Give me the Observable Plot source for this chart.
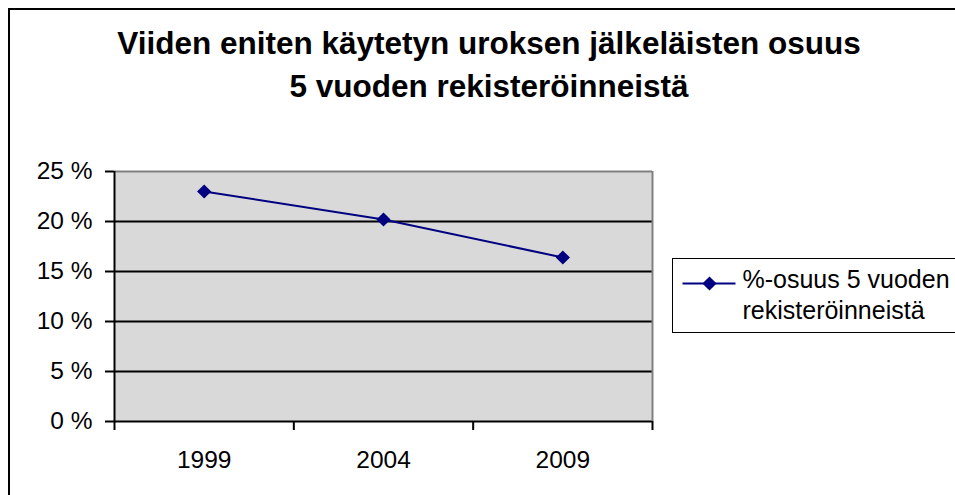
<!DOCTYPE html>
<html>
<head>
<meta charset="utf-8">
<script src="https://cdn.jsdelivr.net/npm/d3@7"></script>
<script src="https://cdn.jsdelivr.net/npm/@observablehq/plot@0.6"></script>
<style>
  html, body { margin: 0; padding: 0; background: #fff; }
  body { width: 955px; height: 495px; overflow: hidden; position: relative; font-family: "Liberation Sans", Arial, sans-serif; }
  #wrap { position: absolute; left: 0; top: 0; width: 955px; height: 495px; }
  #border { position: absolute; left: 8px; top: 8px; width: 1000px; height: 600px; border: 2px solid #000; box-sizing: border-box; }
  .title { position: absolute; left: 0; width: 978px; text-align: center; font-weight: bold; font-size: 31.5px; line-height: 1; color: #000; white-space: nowrap; }
  #legend { position: absolute; left: 672px; top: 258px; width: 320px; height: 75px; border: 1.5px solid #000; box-sizing: border-box; background: #fff; }
  .ltext { position: absolute; font-size: 25px; line-height: 1; color: #000; white-space: nowrap; }
  #chart { position: absolute; left: 0; top: 0; }
</style>
</head>
<body>
<div id="wrap">
  <div id="border"></div>
  <div id="chart"></div>
</div>
<script>
// ---- data ----
const title = ["Viiden eniten käytetyn uroksen jälkeläisten osuus", "5 vuoden rekisteröinneistä"];
const years = [1999, 2004, 2009];
const shares = [23.0, 20.2, 16.4];           // % of 5-year registrations
const yTicks = [0, 5, 10, 15, 20, 25];
const seriesName = ["%-osuus 5 vuoden", "rekisteröinneistä"];

const data = years.map((y, i) => ({year: y, value: shares[i]}));
const step = years[1] - years[0];
const xMin = years[0] - step / 2;
const xMax = years[years.length - 1] + step / 2;
const bounds = [xMin, ...years.slice(0, -1).map(y => y + step / 2), xMax];
const yMax = yTicks[yTicks.length - 1];

const navy = "#000080";
const dotR = 6.4;

const chart = Plot.plot({
  width: 955,
  height: 495,
  marginLeft: 114,
  marginRight: 303,
  marginTop: 171,
  marginBottom: 74,
  style: { background: "transparent", fontFamily: "'Liberation Sans', Arial, sans-serif", color: "#000" },
  x: { type: "linear", domain: [xMin, xMax] },
  y: { domain: [0, yMax] },
  marks: [
    Plot.frame({ fill: "#d9d9d9", stroke: "none" }),
    Plot.ruleY(yTicks.filter(t => t < yMax), { stroke: "#000", strokeWidth: 2 }),
    Plot.ruleY([yMax], { stroke: "#808080", strokeWidth: 2 }),
    Plot.ruleX([xMax], { stroke: "#808080", strokeWidth: 2 }),
    Plot.ruleX([xMin], { stroke: "#000", strokeWidth: 2 }),
    Plot.axisY({ ticks: yTicks, tickFormat: d => d + " %", tickSize: 9, tickPadding: 13, fontSize: 24.5, strokeWidth: 2, label: null }),
    Plot.axisX({ ticks: bounds, tickSize: 9, tickFormat: () => "", strokeWidth: 2, label: null }),
    Plot.axisX({ ticks: years, tickSize: 0, tickPadding: 29, tickFormat: d => String(d), fontSize: 24.5, label: null }),
    Plot.line(data, { x: "year", y: "value", stroke: navy, strokeWidth: 2 }),
    Plot.dot(data, { x: "year", y: "value", symbol: "diamond2", r: dotR, fill: navy, stroke: "none" })
  ]
});
document.getElementById("chart").appendChild(chart);

// ---- title ----
const wrap = document.getElementById("wrap");
const baselines = [57, 100];
title.forEach((t, i) => {
  const d = document.createElement("div");
  d.className = "title";
  d.textContent = t;
  d.style.top = (baselines[i] - 31.5 * 0.905) + "px";
  wrap.appendChild(d);
});

// ---- legend ----
const legend = document.createElement("div");
legend.id = "legend";
wrap.appendChild(legend);
const ls = d3.select(legend).append("svg")
  .attr("width", 70).attr("height", 70)
  .style("position", "absolute").style("left", "0px").style("top", "0px");
ls.append("line").attr("x1", 9.5).attr("x2", 62.5).attr("y1", 24.5).attr("y2", 24.5)
  .attr("stroke", navy).attr("stroke-width", 2);
ls.append("path").attr("d", d3.symbol(d3.symbolDiamond2, Math.PI * dotR * dotR)())
  .attr("transform", "translate(36.5,24.5)").attr("fill", navy);
const lb = [290, 321];
seriesName.forEach((t, i) => {
  const d = document.createElement("div");
  d.className = "ltext";
  d.textContent = t;
  d.style.left = (743 - 672 - 1.5) + "px";
  d.style.top = (lb[i] - 258 - 1.5 - 25 * 0.905) + "px";
  legend.appendChild(d);
});
</script>
</body>
</html>
